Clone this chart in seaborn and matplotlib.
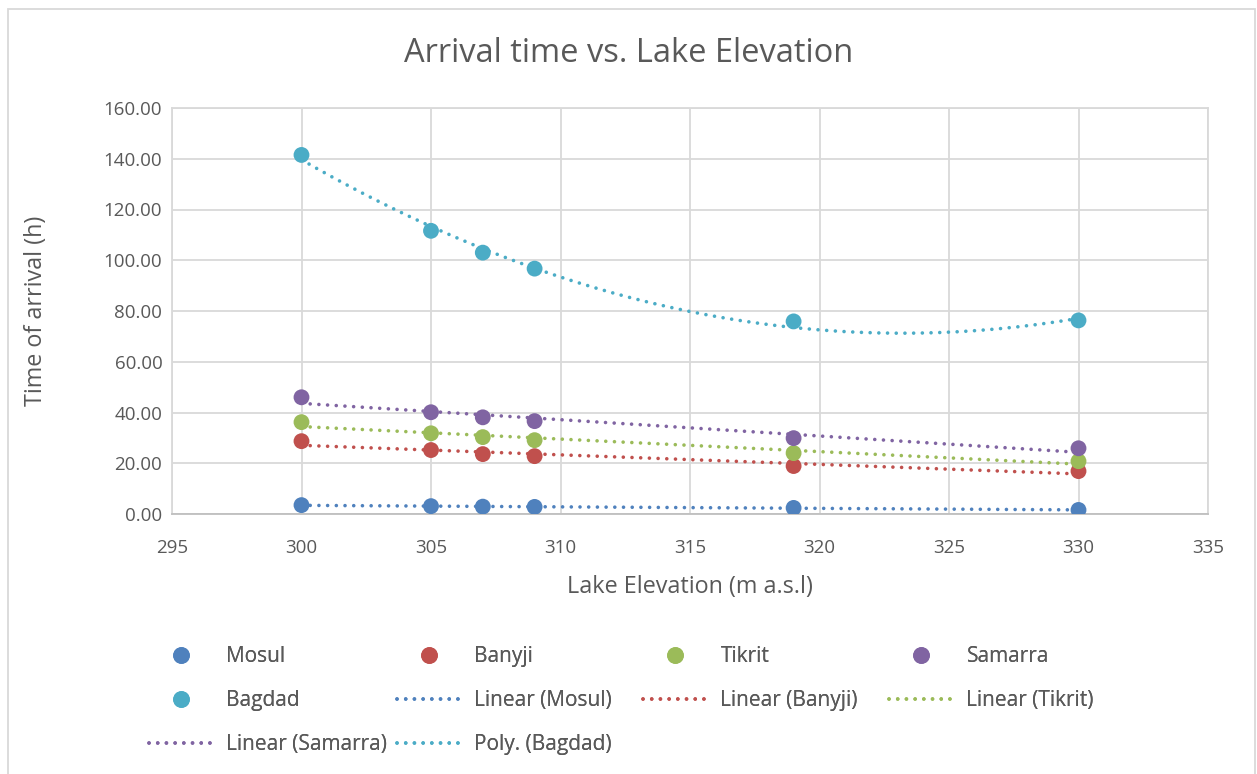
import matplotlib
matplotlib.use("Agg", force=True)
import matplotlib.pyplot as plt
import numpy as np
import pandas as pd
import seaborn as sns
from matplotlib.lines import Line2D
from matplotlib.patches import Rectangle

# lake elevations (m a.s.l) and arrival times (h)
elevation = [300, 305, 307, 309, 319, 330]
mosul = [3.5, 3.1, 2.9, 2.8, 2.4, 1.6]
banyji = [28.7, 25.2, 23.6, 22.8, 18.9, 16.9]
tikrit = [36.2, 31.8, 30.3, 29.1, 24.0, 20.8]
samarra = [46.0, 40.1, 38.1, 36.6, 29.9, 25.9]
bagdad = [141.5, 111.6, 103.0, 96.7, 75.9, 76.3]

cities = ["Mosul", "Banyji", "Tikrit", "Samarra", "Bagdad"]
colors = ["#4F81BD", "#C0504D", "#9BBB59", "#8064A2", "#4BACC6"]
trend_order = [1, 1, 1, 1, 2]  # Bagdad uses a 2nd order polynomial

x_ticks = list(range(295, 340, 5))
y_ticks = list(range(0, 180, 20))

TEXT = "#595959"
GRID = "#D9D9D9"
W, H = 1257, 774

df = pd.DataFrame({"elevation": elevation, "Mosul": mosul, "Banyji": banyji,
                   "Tikrit": tikrit, "Samarra": samarra, "Bagdad": bagdad})
long_df = df.melt(id_vars="elevation", var_name="city", value_name="time")

sns.set_style("white")
plt.rcParams["font.family"] = ["Open Sans", "DejaVu Sans"]

fig = plt.figure(figsize=(W / 100, H / 100), dpi=100)
ax = fig.add_axes([172 / W, 1 - 514 / H, (1208 - 172) / W, (514 - 108) / H])

# trend lines first so the markers sit on top (round dots like Excel's "round dot")
xs = np.linspace(300, 330, 300)
dotted = (0, (0.01, 2.4))
for city, color, order in zip(cities, colors, trend_order):
    coef = np.polyfit(df["elevation"], df[city], order)
    ax.plot(xs, np.polyval(coef, xs), color=color, lw=2.6,
            linestyle=dotted, dash_capstyle="round", zorder=2)

sns.scatterplot(data=long_df, x="elevation", y="time", hue="city",
                palette=dict(zip(cities, colors)), s=130, edgecolor="none",
                legend=False, ax=ax, zorder=3)

ax.set_xlim(295, 335)
ax.set_ylim(0, 160)
ax.set_xticks(x_ticks)
ax.set_yticks(y_ticks)
ax.set_yticklabels([f"{v:.2f}" for v in y_ticks])
ax.grid(True, color=GRID, lw=1.3)
ax.set_axisbelow(True)
for side in ["top", "left", "right"]:
    ax.spines[side].set_color(GRID)
    ax.spines[side].set_linewidth(1.3)
ax.spines["bottom"].set_color("#BFBFBF")
ax.spines["bottom"].set_linewidth(1.3)
ax.tick_params(length=0, labelsize=13.5, colors=TEXT)
ax.tick_params(axis="y", pad=7)
ax.tick_params(axis="x", pad=18)

ax.set_xlabel("Lake Elevation (m a.s.l)", fontsize=16.8, color=TEXT, labelpad=13)
ax.set_ylabel("Time of arrival (h)", fontsize=16.8, color=TEXT, labelpad=40)
fig.text(0.5, 1 - 53 / H, "Arrival time vs. Lake Elevation",
         ha="center", va="center", fontsize=23.5, color=TEXT)

# legend: Excel uses equal-width columns, so one legend per column
def dot(c):
    return Line2D([], [], marker="o", linestyle="none", markersize=11, color=c)

def dash(c):
    return Line2D([], [], color=c, lw=2.6, linestyle=dotted, dash_capstyle="round")

entries = {}
for city, color, order in zip(cities, colors, trend_order):
    entries[city] = dot(color)
    entries[("Poly. " if order == 2 else "Linear ") + f"({city})"] = dash(color)
legend_cols = [["Mosul", "Bagdad", "Linear (Samarra)"],
               ["Banyji", "Linear (Mosul)", "Poly. (Bagdad)"],
               ["Tikrit", "Linear (Banyji)"],
               ["Samarra", "Linear (Tikrit)"]]
col_x = [149, 397, 643, 889]
for labels, x0 in zip(legend_cols, col_x):
    leg = fig.legend([entries[k] for k in labels], labels, loc="upper left",
                     bbox_to_anchor=(x0 / W, 1 - 646 / H), frameon=False,
                     fontsize=15, labelcolor=TEXT, handlelength=3.1,
                     handletextpad=0.62, labelspacing=1.1,
                     borderpad=0, borderaxespad=0)
    fig.add_artist(leg)

# outer chart border
fig.patches.append(Rectangle((8 / W, -0.05), (1255 - 8) / W, 1.05 - 9 / H,
                             transform=fig.transFigure, fill=False,
                             edgecolor=GRID, lw=1.3))

fig.savefig("out.png", dpi=100)
